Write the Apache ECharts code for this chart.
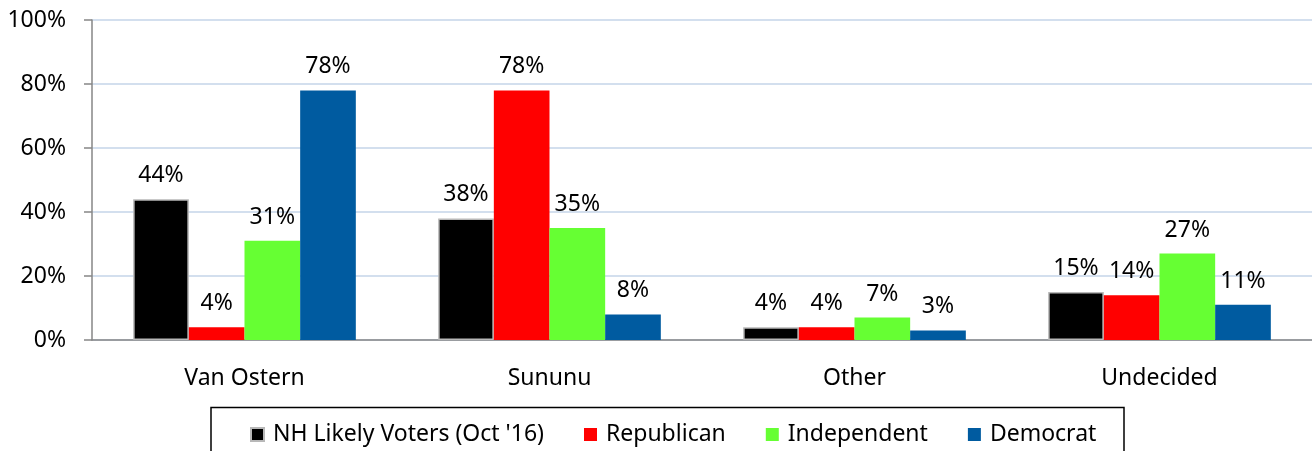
<!DOCTYPE html>
<html>
<head>
<meta charset="utf-8">
<script src="https://cdn.jsdelivr.net/npm/echarts@6/dist/echarts.min.js"></script>
<style>
  html, body { margin: 0; padding: 0; background: #fff; }
  #chart { width: 1312px; height: 451px; }
</style>
</head>
<body>
<div id="chart"></div>
<script>
const categories = ['Van Ostern', 'Sununu', 'Other', 'Undecided']
const likelyVoters = [44, 38, 4, 15]
const republican = [4, 78, 4, 14]
const independent = [31, 35, 7, 27]
const democrat = [78, 8, 3, 11]
const yTicks = [0, 20, 40, 60, 80, 100]

const font = '"Noto Sans", sans-serif'

const chart = echarts.init(document.getElementById('chart'))

const makeSeries = (name, data, color, border) => ({
  name: name,
  type: 'bar',
  data: data,
  barGap: '0%',
  barCategoryGap: '27%',
  itemStyle: {
    color: color,
    borderColor: border || color,
    borderWidth: border ? 1.5 : 0
  },
  label: {
    show: true,
    position: 'top',
    distance: 12,
    formatter: p => p.value + '%',
    color: '#000',
    fontFamily: font,
    fontSize: 23
  }
})

const option = {
  animation: false,
  grid: { left: 92, right: 0, top: 20, bottom: 111 },
  graphic: [{
    type: 'rect',
    shape: { x: 211, y: 407.5, width: 913, height: 60 },
    style: { fill: 'none', stroke: '#000', lineWidth: 1.5 }
  }],
  legend: {
    left: 250,
    top: 423,
    padding: 0,
    itemWidth: 13,
    itemHeight: 13,
    itemGap: 40,
    icon: 'rect',
    textStyle: { fontFamily: font, fontSize: 23, color: '#000', padding: [0, 0, 0, 4] },
    data: ['NH Likely Voters (Oct \'16)', 'Republican', 'Independent', 'Democrat']
  },
  xAxis: {
    type: 'category',
    data: categories,
    axisLine: { lineStyle: { color: '#868686', width: 1.5 } },
    axisTick: { length: 7, lineStyle: { color: '#868686', width: 1.5 } },
    axisLabel: { margin: 27, color: '#000', fontFamily: font, fontSize: 23 }
  },
  yAxis: {
    type: 'value',
    min: yTicks[0],
    max: yTicks[yTicks.length - 1],
    interval: 20,
    axisLine: { show: true, lineStyle: { color: '#868686', width: 1.5 } },
    axisTick: { show: true, length: 8, lineStyle: { color: '#868686', width: 1.5 } },
    axisLabel: { margin: 26, color: '#000', fontFamily: font, fontSize: 23, formatter: v => v + '%' },
    splitLine: { lineStyle: { color: '#c5d5e8', width: 1.5 } }
  },
  series: [
    makeSeries('NH Likely Voters (Oct \'16)', likelyVoters, '#000000', '#b8b8b8'),
    makeSeries('Republican', republican, '#ff0000'),
    makeSeries('Independent', independent, '#66ff33'),
    makeSeries('Democrat', democrat, '#005ba0')
  ]
}

chart.setOption(option)
</script>
</body>
</html>
